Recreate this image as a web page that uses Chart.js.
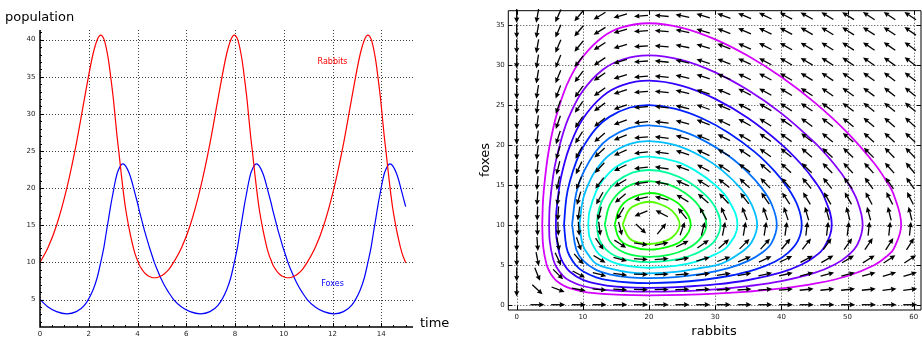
<!DOCTYPE html>
<html>
<head>
<meta charset="UTF-8">
<title>Rabbits and foxes</title>
<script src="https://cdn.jsdelivr.net/npm/chart.js"></script>
<style>
  html, body { margin: 0; padding: 0; background: #fff; }
  body { width: 922px; height: 337px; position: relative; overflow: hidden; }
  canvas { position: absolute; top: 0; }
  #timeChart { left: 0; }
  #phaseChart { left: 461px; }
</style>
</head>
<body>
<canvas id="timeChart" width="461" height="337"></canvas>
<canvas id="phaseChart" width="461" height="337"></canvas>
<script>
// ---- left panel: populations over time ----
const timePoints = [
  0, 0.33, 0.68, 1.10, 1.49, 1.82, 2.17, 2.35, 2.49, 2.63, 2.71, 2.77, 2.82, 2.90, 3.01, 3.07, 3.16, 3.23, 3.33,
  3.40, 3.51, 3.66, 3.76, 3.84, 3.92, 4.00, 4.07, 4.15, 4.23, 4.31, 4.40, 4.49, 4.59, 4.69, 4.81, 4.94, 5.09, 5.27,
  5.48, 5.81, 6.16, 6.58, 6.97, 7.30, 7.65, 7.83, 7.97, 8.11, 8.19, 8.25, 8.30, 8.38, 8.49, 8.55, 8.64, 8.71, 8.81,
  8.88, 8.99, 9.14, 9.24, 9.32, 9.40, 9.48, 9.55, 9.63, 9.71, 9.79, 9.88, 9.97, 10.07, 10.17, 10.29, 10.42, 10.57, 10.75,
  10.96, 11.29, 11.64, 12.06, 12.45, 12.78, 13.13, 13.31, 13.45, 13.59, 13.67, 13.73, 13.78, 13.86, 13.97, 14.03, 14.12, 14.19, 14.29,
  14.36, 14.47, 14.62, 14.72, 14.80, 14.88, 14.96, 15.00
];
const rabbits = [
  10, 12, 15, 20, 26, 32, 38, 40, 40.6, 40, 39, 38, 37, 35, 32, 30, 27, 25, 22,
  20, 17.26, 14.48, 12.92, 11.82, 10.95, 10.28, 9.70, 9.23, 8.84, 8.52, 8.27, 8.09, 7.97, 7.93, 7.97, 8.14, 8.45, 9.0,
  10, 12, 15, 20, 26, 32, 38, 40, 40.6, 40, 39, 38, 37, 35, 32, 30, 27, 25, 22,
  20, 17.26, 14.48, 12.92, 11.82, 10.95, 10.28, 9.70, 9.23, 8.84, 8.52, 8.27, 8.09, 7.97, 7.93, 7.97, 8.14, 8.45, 9.0,
  10, 12, 15, 20, 26, 32, 38, 40, 40.6, 40, 39, 38, 37, 35, 32, 30, 27, 25, 22,
  20, 17.26, 14.48, 12.92, 11.82, 10.95, 10.28, 9.95
];
const foxes = [
  5, 4.0, 3.37, 3.08, 3.37, 4.2, 6.25, 8.0, 10, 12.2, 13.86, 15.04, 16.02, 17.65, 19.6, 20.66, 21.94, 22.56, 23.15,
  23.28, 23, 22, 21, 20, 19, 18, 17, 16, 15, 14, 13, 12, 11, 10, 9, 8, 7, 6,
  5, 4.0, 3.37, 3.08, 3.37, 4.2, 6.25, 8.0, 10, 12.2, 13.86, 15.04, 16.02, 17.65, 19.6, 20.66, 21.94, 22.56, 23.15,
  23.28, 23, 22, 21, 20, 19, 18, 17, 16, 15, 14, 13, 12, 11, 10, 9, 8, 7, 6,
  5, 4.0, 3.37, 3.08, 3.37, 4.2, 6.25, 8.0, 10, 12.2, 13.86, 15.04, 16.02, 17.65, 19.6, 20.66, 21.94, 22.56, 23.15,
  23.28, 23, 22, 21, 20, 19, 18, 17.5
];
const timeTicks = [0, 2, 4, 6, 8, 10, 12, 14];
const populationTicks = [5, 10, 15, 20, 25, 30, 35, 40];
const seriesNames = ['Rabbits', 'Foxes'];
const seriesColors = ['#ff0000', '#0000ff'];
const seriesNameAt = [[12.0, 37.0], [12.0, 7.1]];   // time, population

// ---- right panel: phase portrait ----
const rabbitTicks = [0, 10, 20, 30, 40, 50, 60];
const foxTicks = [0, 5, 10, 15, 20, 25, 30, 35];

const orbit1 = [[3.86,10],[4,13.32],[4.5,17.36],[5,20.0],[5.5,22.0],[6,23.64],[7,26.25],[8,28.23],[10,31.0],[13,33.47],[16,34.69],[20,35.18],[25,34.61],[30,33.17],[35,31.08],[40,28.45],[45,25.29],[50,21.49],[54,17.71],[56,15.28],[57,13.71],[58.1,10],[57,7.02],[56,6.11],[54,4.94],[50,3.59],[45,2.63],[40,2.03],[35,1.64],[30,1.38],[25,1.23],[20,1.18],[16,1.22],[13,1.35],[10,1.65],[8,2.07],[7,2.43],[6,3.0],[5.5,3.45],[5,4.07],[4.5,5.07],[4,7.28],[3.86,10]];
const orbit2 = [[4.89,10],[5,12.43],[5.5,16.03],[6,18.26],[7,21.41],[8,23.67],[10,26.74],[13,29.36],[16,30.65],[20,31.17],[25,30.57],[30,29.04],[35,26.8],[40,23.92],[45,20.28],[48,17.56],[50,15.28],[51.5,12.93],[52.28,10],[51.5,7.54],[50,6.11],[48,5.0],[45,3.97],[40,2.94],[35,2.33],[30,1.93],[25,1.71],[20,1.63],[16,1.7],[13,1.88],[10,2.34],[8,3.0],[7,3.62],[6,4.72],[5.5,5.73],[5,7.9],[4.89,10]];
const orbit3 = [[5.92,10],[6,11.72],[6.5,15.06],[7,17.0],[8,19.77],[10,23.23],[13,26.07],[16,27.45],[20,28.0],[25,27.36],[30,25.73],[35,23.3],[40,20.05],[43,17.56],[45,15.48],[46.5,13.4],[47.61,10],[46.5,7.23],[45,5.99],[43,5.0],[40,4.05],[35,3.09],[30,2.53],[25,2.23],[20,2.11],[16,2.21],[13,2.48],[10,3.11],[8,4.15],[7,5.26],[6.5,6.24],[6,8.43],[5.92,10]];
const orbit4 = [[7.15,10],[7.5,13.33],[8,15.31],[9,17.88],[10,19.67],[12,22.04],[14,23.48],[17,24.62],[20,24.94],[24,24.49],[28,23.31],[32,21.5],[36,19.07],[39,16.67],[41,14.57],[42.5,12.28],[43.07,10],[42.5,8.0],[41,6.48],[39,5.37],[36,4.4],[32,3.59],[28,3.09],[24,2.81],[20,2.71],[17,2.78],[14,3.04],[12,3.43],[10,4.19],[9,4.87],[8,6.09],[7.5,7.27],[7.15,10]];
const orbit5 = [[8.37,10],[9,13.95],[10,16.39],[12,19.22],[14,20.84],[17,22.08],[20,22.42],[24,21.94],[28,20.64],[32,18.61],[35,16.49],[37,14.6],[38.5,12.61],[39.31,10],[38.5,7.7],[37,6.46],[35,5.48],[32,4.58],[28,3.86],[24,3.46],[20,3.33],[17,3.42],[14,3.8],[12,4.35],[10,5.54],[9,6.89],[8.37,10]];
const orbit6 = [[9.49,10],[10,13.1],[11,15.38],[12,16.86],[14,18.72],[17,20.08],[20,20.45],[24,19.94],[28,18.5],[31,16.82],[34,14.4],[35.5,12.5],[36.34,10],[35.5,7.8],[34,6.6],[31,5.15],[28,4.62],[24,4.1],[20,3.92],[17,4.04],[14,4.53],[12,5.13],[11,6.04],[10,7.43],[9.49,10]];
const orbit7 = [[10.81,10],[11,11.65],[12,14.17],[13,15.54],[15,17.22],[17.5,18.21],[20,18.5],[24,17.91],[27,16.76],[30,14.96],[32,13.09],[33.36,10],[32,7.44],[30,6.29],[27,5.35],[24,4.86],[20,4.62],[17.5,4.76],[15,5.16],[13,5.96],[12,6.76],[11,8.47],[10.81,10]];
const orbit8 = [[12.07,10],[12.5,12.13],[13.5,13.9],[15,15.34],[17.5,16.51],[20,16.84],[23,16.45],[26,15.34],[28.5,13.74],[30,12.17],[30.8,10],[30,8.08],[28.5,7.0],[26,6.06],[23,5.5],[20,5.33],[17.5,5.48],[15,6.06],[13.5,6.88],[12.5,8.1],[12.07,10]];
const orbit9 = [[13.31,10],[14,12.36],[15.5,14.05],[17.5,15.07],[20,15.44],[23,15.0],[25.5,13.94],[27.5,12.36],[28.66,10],[27.5,8.04],[25.5,6.9],[23,6.24],[20,5.99],[17.5,6.2],[15.5,6.83],[14,8.04],[13.31,10]];
const orbit10 = [[14.81,10],[15.5,11.93],[17,13.21],[20,13.96],[23,13.34],[25,12.19],[26.3,10],[25,8.06],[23,7.27],[20,6.89],[17,7.36],[15.5,8.25],[14.81,10]];
const orbit11 = [[16.0,10],[17,11.88],[18.5,12.62],[20,12.87],[21.5,12.62],[23.5,11.72],[24.62,10],[23.5,8.43],[21.5,7.75],[20,7.59],[18.5,7.75],[17,8.33],[16.0,10]];
const orbits = [orbit1, orbit2, orbit3, orbit4, orbit5, orbit6, orbit7, orbit8, orbit9, orbit10, orbit11];
const orbitHues = [290, 271, 252, 233, 214, 195, 176, 157, 138, 119, 100];

// direction field: grid positions and arrow direction (degrees, counter-clockwise)
const arrowX = [0, 3.13, 6.26, 9.39, 12.52, 15.65, 18.78, 21.91, 25.04, 28.17, 31.30, 34.43, 37.56, 40.69, 43.82, 46.95, 50.08, 53.21, 56.34, 59.47];
const arrowY = [0, 1.9, 3.8, 5.7, 7.6, 9.5, 11.4, 13.3, 15.2, 17.1, 19.0, 20.9, 22.8, 24.7, 26.6, 28.5, 30.4, 32.3, 34.2, 36.1];
const arrowAngle = [
  [null, 0, 0, 0, 0, 0, 0, 0, 0, 0, 0, 0, 0, 0, 0, 0, 0, 0, 0, 0],
  [-90, -43, -21, -11, -6, -3, -1, 1, 2, 3, 4, 4, 5, 5, 6, 6, 6, 6, 7, 7],
  [-90, -68, -45, -28, -15, -7, -2, 2, 5, 8, 9, 11, 12, 13, 14, 15, 15, 16, 17, 17],
  [-90, -79, -65, -48, -31, -15, -4, 5, 11, 16, 20, 23, 25, 27, 28, 30, 31, 32, 33, 33],
  [-90, -86, -79, -70, -55, -33, -9, 12, 26, 35, 41, 45, 48, 50, 52, 54, 55, 56, 57, 58],
  [-90, -89, -88, -86, -83, -76, -43, 51, 71, 76, 79, 80, 81, 82, 83, 83, 83, 84, 84, 84],
  [-90, -92, -94, -98, -105, -121, -158, 152, 129, 119, 114, 111, 109, 108, 107, 106, 105, 105, 104, 104],
  [-90, -94, -99, -106, -119, -140, -169, 165, 149, 139, 133, 128, 125, 123, 121, 120, 119, 118, 117, 117],
  [-90, -95, -102, -112, -127, -149, -172, 169, 156, 148, 142, 137, 134, 132, 130, 129, 127, 126, 125, 125],
  [-90, -96, -104, -116, -133, -153, -173, 171, 160, 152, 147, 143, 140, 137, 136, 134, 133, 132, 131, 130],
  [-90, -97, -106, -119, -137, -156, -174, 172, 162, 155, 150, 146, 144, 141, 139, 138, 136, 135, 134, 134],
  [-90, -97, -108, -122, -139, -158, -175, 173, 164, 157, 153, 149, 146, 144, 142, 141, 139, 138, 137, 136],
  [-90, -98, -109, -124, -141, -160, -175, 173, 165, 159, 154, 151, 148, 146, 144, 143, 141, 140, 139, 138],
  [-90, -98, -110, -125, -143, -161, -175, 174, 166, 160, 156, 152, 150, 147, 146, 144, 143, 142, 141, 140],
  [-90, -99, -111, -126, -144, -162, -176, 174, 166, 161, 157, 153, 151, 149, 147, 145, 144, 143, 142, 141],
  [-90, -99, -112, -127, -145, -162, -176, 174, 167, 162, 157, 154, 152, 150, 148, 146, 145, 144, 143, 143],
  [-90, -99, -112, -128, -146, -163, -176, 174, 167, 162, 158, 155, 152, 150, 149, 147, 146, 145, 144, 143],
  [-90, -100, -113, -129, -147, -163, -176, 175, 168, 163, 159, 156, 153, 151, 149, 148, 147, 146, 145, 144],
  [-90, -100, -113, -130, -148, -164, -176, 175, 168, 163, 159, 156, 154, 152, 150, 149, 147, 147, 146, 145],
  [-90, -100, -114, -130, -148, -164, -176, 175, 168, 163, 160, 157, 154, 152, 151, 149, 148, 147, 146, 146]
];

const FONT = 'DejaVu Sans';

function toPoints(xs, ys) {
  return xs.map((x, i) => ({ x: x, y: ys[i] }));
}

function drawArrow(ctx, cx, cy, deg, len) {
  const r = deg * Math.PI / 180;
  const ux = Math.cos(r), uy = -Math.sin(r);
  const nx = -uy, ny = ux;
  const tailX = cx - ux * len / 2, tailY = cy - uy * len / 2;
  const tipX = cx + ux * len / 2, tipY = cy + uy * len / 2;
  const hl = 5.5, hw = 2.6;
  const bx = tipX - ux * hl, by = tipY - uy * hl;
  ctx.beginPath();
  ctx.moveTo(tailX, tailY);
  ctx.lineTo(bx + ux, by + uy);
  ctx.stroke();
  ctx.beginPath();
  ctx.moveTo(tipX, tipY);
  ctx.lineTo(bx + nx * hw, by + ny * hw);
  ctx.lineTo(bx + ux * 0.6, by + uy * 0.6);
  ctx.lineTo(bx - nx * hw, by - ny * hw);
  ctx.closePath();
  ctx.fill();
}

// grid, spines, tick marks and free text, all placed through the chart scales
function decor(cfg) {
  return {
    id: 'decor',
    beforeDatasetsDraw(chart) {
      const ctx = chart.ctx, a = chart.chartArea;
      const sx = chart.scales.x, sy = chart.scales.y;
      ctx.save();
      ctx.strokeStyle = 'rgba(0,0,0,0.75)';
      ctx.lineWidth = 1;
      ctx.setLineDash([1, 2]);
      cfg.gridX.forEach(v => {
        const p = Math.round(sx.getPixelForValue(v)) + 0.5;
        ctx.beginPath(); ctx.moveTo(p, a.top); ctx.lineTo(p, a.bottom); ctx.stroke();
      });
      cfg.gridY.forEach(v => {
        const p = Math.round(sy.getPixelForValue(v)) + 0.5;
        ctx.beginPath(); ctx.moveTo(a.left, p); ctx.lineTo(a.right, p); ctx.stroke();
      });
      ctx.restore();
    },
    afterDatasetsDraw(chart) {
      const ctx = chart.ctx, a = chart.chartArea;
      const sx = chart.scales.x, sy = chart.scales.y;
      ctx.save();
      if (cfg.arrows) {
        ctx.strokeStyle = '#000';
        ctx.fillStyle = '#000';
        ctx.lineWidth = 1.3;
        ctx.lineCap = 'butt';
        arrowY.forEach((yv, j) => {
          arrowX.forEach((xv, i) => {
            const ang = arrowAngle[j][i];
            if (ang === null) return;
            drawArrow(ctx, sx.getPixelForValue(xv), sy.getPixelForValue(yv), ang, 14);
          });
        });
      }
      // spines
      ctx.strokeStyle = '#000';
      ctx.lineWidth = cfg.spineWidth;
      ctx.beginPath();
      if (cfg.box) {
        ctx.rect(a.left, a.top, a.right - a.left, a.bottom - a.top);
      } else {
        ctx.moveTo(a.left, a.top); ctx.lineTo(a.left, a.bottom); ctx.lineTo(a.right, a.bottom);
      }
      ctx.stroke();
      // ticks (inward)
      ctx.lineWidth = 1;
      const tickX = (v, len) => {
        const p = Math.round(sx.getPixelForValue(v)) + 0.5;
        ctx.beginPath(); ctx.moveTo(p, a.bottom); ctx.lineTo(p, a.bottom - len); ctx.stroke();
        if (cfg.box) { ctx.beginPath(); ctx.moveTo(p, a.top); ctx.lineTo(p, a.top + len); ctx.stroke(); }
      };
      const tickY = (v, len) => {
        const p = Math.round(sy.getPixelForValue(v)) + 0.5;
        ctx.beginPath(); ctx.moveTo(a.left, p); ctx.lineTo(a.left + len, p); ctx.stroke();
        if (cfg.box) { ctx.beginPath(); ctx.moveTo(a.right, p); ctx.lineTo(a.right - len, p); ctx.stroke(); }
      };
      cfg.gridX.forEach(v => tickX(v, 4));
      cfg.gridY.forEach(v => tickY(v, 4));
      if (cfg.minorX) {
        for (let v = Math.ceil(sx.min / cfg.minorX) * cfg.minorX; v <= sx.max; v += cfg.minorX) {
          if (!cfg.gridX.some(g => Math.abs(g - v) < 1e-6)) tickX(v, 2);
        }
      }
      if (cfg.minorY) {
        for (let v = Math.ceil(sy.min / cfg.minorY) * cfg.minorY; v <= sy.max; v += cfg.minorY) {
          if (!cfg.gridY.some(g => Math.abs(g - v) < 1e-6)) tickY(v, 2);
        }
      }
      // free text
      (cfg.texts || []).forEach(t => {
        ctx.save();
        ctx.font = t.size + 'px "' + FONT + '"';
        ctx.fillStyle = t.color || '#000';
        ctx.textAlign = t.align || 'left';
        ctx.textBaseline = t.baseline || 'alphabetic';
        const px = t.data ? sx.getPixelForValue(t.x) : t.x;
        const py = t.data ? sy.getPixelForValue(t.y) : t.y;
        ctx.translate(px, py);
        if (t.rotate) ctx.rotate(t.rotate);
        ctx.fillText(t.text, 0, 0);
        ctx.restore();
      });
      ctx.restore();
    }
  };
}

function axis(min, max, ticks, fitKey, fitSize, pad) {
  return {
    type: 'linear',
    min: min,
    max: max,
    afterBuildTicks: s => { s.ticks = ticks.map(v => ({ value: v })); },
    afterFit: s => { s[fitKey] = fitSize; },
    grid: { display: false, drawTicks: false, tickLength: 0 },
    border: { display: false },
    ticks: {
      autoSkip: false,
      maxRotation: 0,
      padding: pad,
      color: '#222',
      font: { family: FONT, size: 7 },
      callback: v => String(v)
    }
  };
}

const baseOptions = {
  responsive: false,
  animation: false,
  events: [],
  plugins: { legend: { display: false }, tooltip: { enabled: false } }
};

new Chart(document.getElementById('timeChart'), {
  type: 'scatter',
  data: {
    datasets: [
      { data: toPoints(timePoints, rabbits), showLine: true, borderColor: seriesColors[0], borderWidth: 1.2,
        pointRadius: 0, cubicInterpolationMode: 'monotone', fill: false },
      { data: toPoints(timePoints, foxes), showLine: true, borderColor: seriesColors[1], borderWidth: 1.2,
        pointRadius: 0, cubicInterpolationMode: 'monotone', fill: false }
    ]
  },
  options: Object.assign({}, baseOptions, {
    layout: { padding: { left: 0, top: 30, right: 48, bottom: 0 } },
    scales: {
      x: axis(0, 15.3, timeTicks, 'height', 10, 3),
      y: axis(1.3, 41.3, populationTicks, 'width', 40, 4.5)
    }
  }),
  plugins: [decor({
    gridX: timeTicks, gridY: populationTicks, minorX: 0.5, minorY: 1, box: false, spineWidth: 1.5,
    texts: [
      { text: 'population', x: 5, y: 21, size: 13 },
      { text: 'time', x: 420, y: 327, size: 13 },
      { text: seriesNames[0], x: seriesNameAt[0][0], y: seriesNameAt[0][1], data: true, size: 8,
        color: seriesColors[0], align: 'center', baseline: 'middle' },
      { text: seriesNames[1], x: seriesNameAt[1][0], y: seriesNameAt[1][1], data: true, size: 8,
        color: seriesColors[1], align: 'center', baseline: 'middle' }
    ]
  })]
});

new Chart(document.getElementById('phaseChart'), {
  type: 'scatter',
  data: {
    datasets: orbits.map((orb, k) => ({
      data: orb.map(p => ({ x: p[0], y: p[1] })),
      showLine: true,
      borderColor: 'hsl(' + orbitHues[k] + ', 100%, 50%)',
      borderWidth: 1.8,
      pointRadius: 0,
      tension: 0.4,
      fill: false
    }))
  },
  options: Object.assign({}, baseOptions, {
    layout: { padding: { left: 0, top: 10.7, right: 1, bottom: 0 } },
    scales: {
      x: axis(-1.27, 61.1, rabbitTicks, 'height', 27, 3),
      y: axis(-0.66, 36.75, foxTicks, 'width', 47.3, 3.5)
    }
  }),
  plugins: [decor({
    gridX: rabbitTicks, gridY: foxTicks, box: true, spineWidth: 1, arrows: true,
    texts: [
      { text: 'rabbits', x: 253, y: 335, size: 13, align: 'center' },
      { text: 'foxes', x: 28, y: 160, size: 13, align: 'center', rotate: -Math.PI / 2 }
    ]
  })]
});
</script>
</body>
</html>
